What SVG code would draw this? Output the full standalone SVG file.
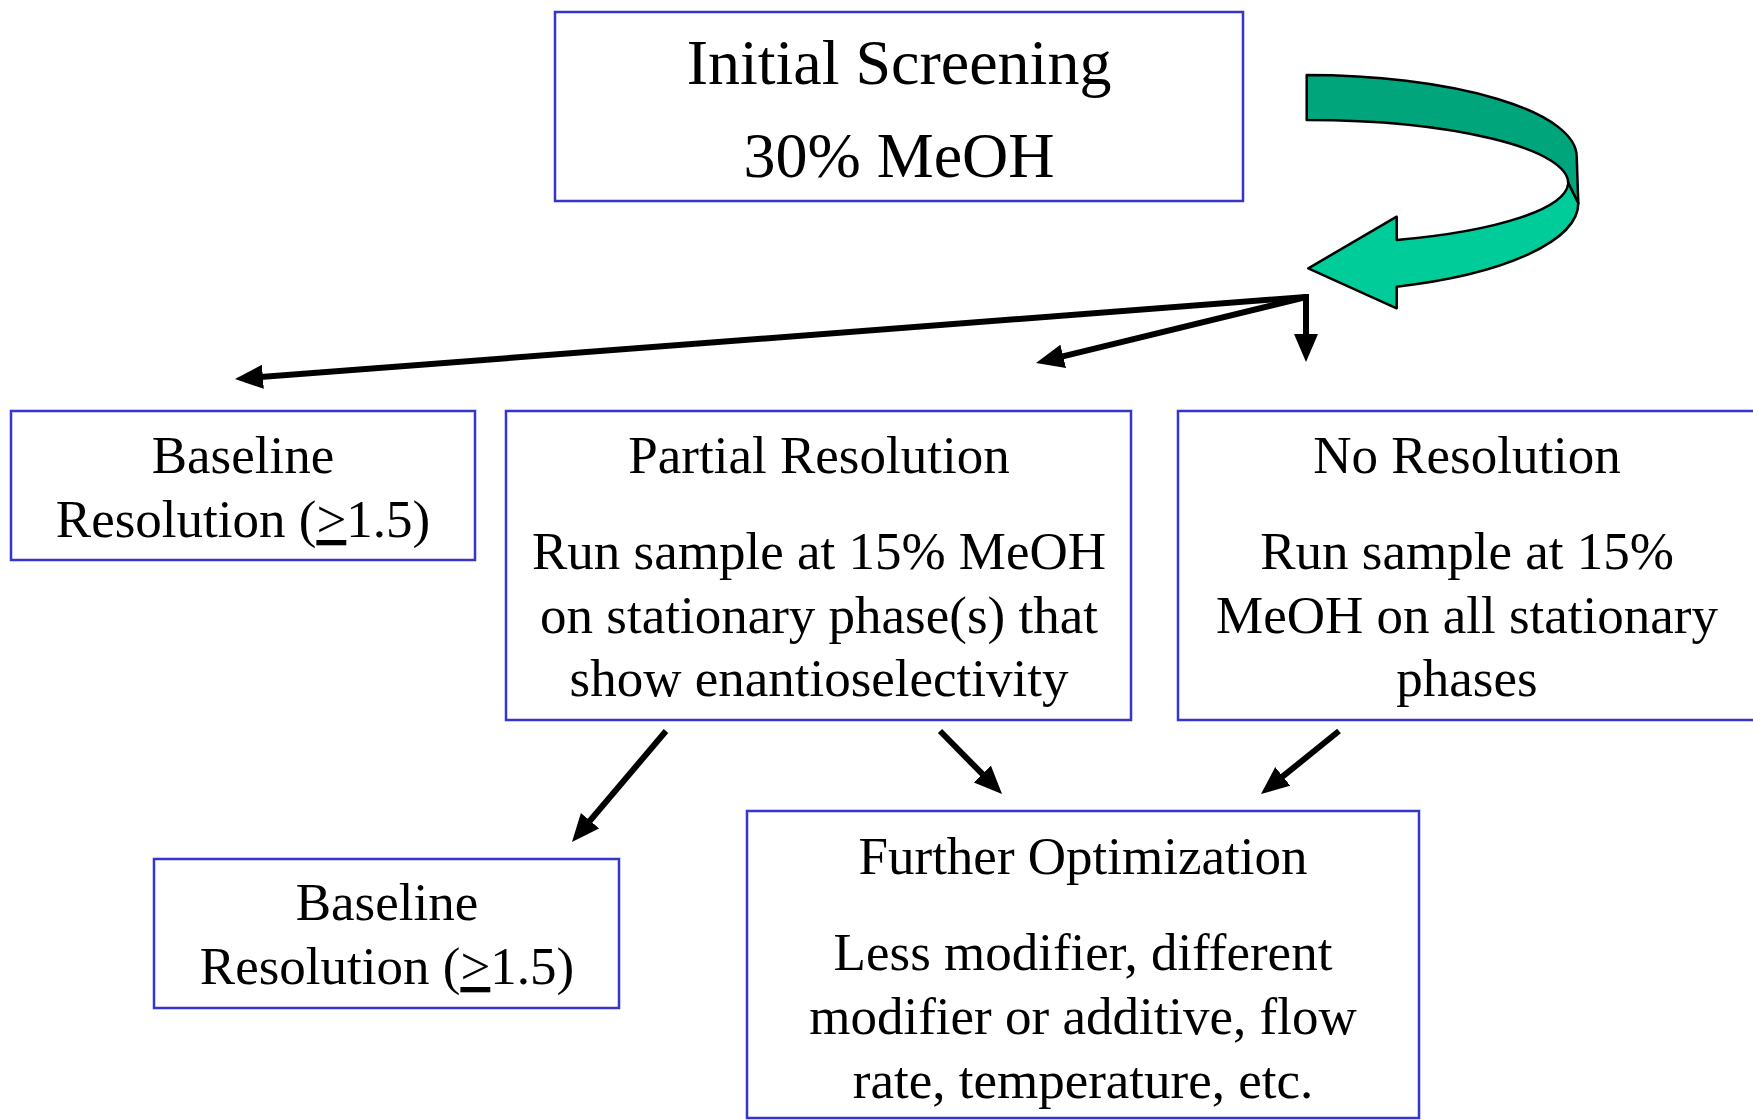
<svg xmlns="http://www.w3.org/2000/svg" width="1753" height="1120" viewBox="0 0 1753 1120">
<style>
.box{fill:#fff;stroke:#3535cc;stroke-width:2.5}
text{font-family:"Liberation Serif","Times New Roman",serif;fill:#000;text-anchor:middle}
.big{font-size:64px}
.t{font-size:53px}
.conn{stroke:#000;stroke-width:6;fill:none;marker-end:url(#ah)}
</style>
<defs>
<marker id="ah" markerUnits="userSpaceOnUse" markerWidth="30" markerHeight="26" refX="10" refY="12" orient="auto">
<path d="M0,0 L28,12 L0,24 Z" fill="#000"/>
</marker>
</defs>
<rect width="1753" height="1120" fill="#fff"/>
<g id="initial">
<rect class="box" x="555" y="12" width="688" height="189"/>
<text class="big" x="899" y="84">Initial Screening</text>
<text class="big" x="899" y="177">30% MeOH</text>
</g>
<g id="loop-arrow" stroke="#000" stroke-width="2.5" stroke-linejoin="round">
<path d="M1306.7,75 A270,81.7 0 0 1 1576.7,156.7 L1578.3,203.3 L1568.3,183.3 A261.6,63.3 0 0 0 1306.7,120 Z" fill="#00a57c"/>
<path d="M1568.3,183.3 A261.6,62 0 0 1 1396.7,240 L1396.7,216.7 L1308.3,268.3 L1396.7,308.3 L1396.7,286.7 A271.6,88.4 0 0 0 1578.3,203.3 Z" fill="#00cc99"/>
</g>
<g id="baseline1">
<rect class="box" x="11" y="411" width="464" height="149"/>
<text class="t" x="243" y="473">Baseline</text>
<text class="t" x="243" y="537">Resolution (<tspan text-decoration="underline">&gt;</tspan>1.5)</text>
</g>
<g id="partial">
<rect class="box" x="506" y="411" width="625" height="309"/>
<text class="t" x="819" y="473">Partial Resolution</text>
<text class="t" x="819" y="569">Run sample at 15% MeOH</text>
<text class="t" x="819" y="633">on stationary phase(s) that</text>
<text class="t" x="819" y="696">show enantioselectivity</text>
</g>
<g id="noresolution">
<rect class="box" x="1178" y="411" width="590" height="309"/>
<text class="t" x="1467" y="473">No Resolution</text>
<text class="t" x="1467" y="569">Run sample at 15%</text>
<text class="t" x="1467" y="633">MeOH on all stationary</text>
<text class="t" x="1467" y="696">phases</text>
</g>
<g id="baseline2">
<rect class="box" x="154" y="859" width="465" height="149"/>
<text class="t" x="387" y="920">Baseline</text>
<text class="t" x="387" y="984">Resolution (<tspan text-decoration="underline">&gt;</tspan>1.5)</text>
</g>
<g id="further">
<rect class="box" x="747" y="811" width="672" height="307"/>
<text class="t" x="1083" y="874">Further Optimization</text>
<text class="t" x="1083" y="970">Less modifier, different</text>
<text class="t" x="1083" y="1034">modifier or additive, flow</text>
<text class="t" x="1083" y="1098">rate, temperature, etc.</text>
</g>
<g id="connectors">
<line class="conn" x1="1306" y1="297" x2="252.9" y2="377.6"/>
<line class="conn" x1="1306" y1="297" x2="1053.5" y2="358.7"/>
<line class="conn" x1="1306" y1="294" x2="1306" y2="344"/>
<line class="conn" x1="666" y1="731" x2="583.6" y2="828.3"/>
<line class="conn" x1="940" y1="731" x2="989.4" y2="781.2"/>
<line class="conn" x1="1339" y1="731" x2="1275" y2="782.7"/>
</g>
</svg>
